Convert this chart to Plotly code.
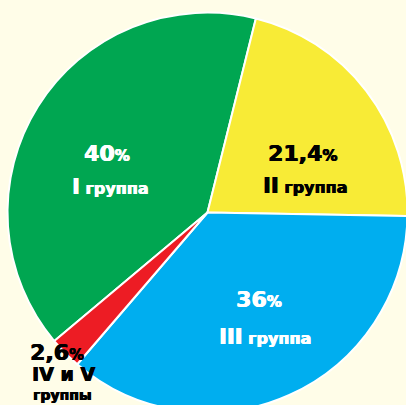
import plotly.graph_objects as go

# ---- data ----
groups = ["I", "II", "III", "IV и V"]
group_words = ["группа", "группа", "группа", "группы"]
shares = [40, 21.4, 36, 2.6]
colors = ["#00A651", "#F8EB36", "#00AEEF", "#ED1C24"]
text_colors = ["white", "black", "white", "black"]

# ---- layout constants (pixels) ----
W, H = 415, 425
CX, CY, R = 207.5, 212.5, 200
BG = "#FFFDE8"
FONT = "DejaVu Sans"


def fmt(v):
    return ("%g" % v).replace(".", ",")


def px(x):
    return x / W


def py(y):
    return 1 - y / H


def heavy(color):
    # thicken glyphs slightly to mimic the heavy display face
    return f"0.6px 0 0 {color}, -0.3px 0 0 {color}"


fig = go.Figure(
    go.Pie(
        values=shares,
        labels=groups,
        sort=False,
        direction="clockwise",
        rotation=-130,
        marker=dict(colors=colors, line=dict(color="white", width=2)),
        textinfo="none",
        hoverinfo="skip",
        showlegend=False,
        domain=dict(x=[(CX - R) / W, (CX + R) / W], y=[0, 1]),
    )
)

# label placements (pixel centres of each text line)
value_pos = [(107, 153), (302, 153), (259, 299), (57, 352)]
name_pos = [(110, 187), (305, 186), (265, 337), (63, 374)]

ann = []
for i in range(len(shares)):
    c = text_colors[i]
    vx, vy = value_pos[i]
    ann.append(dict(
        x=px(vx), y=py(vy), xref="paper", yref="paper",
        xanchor="center", yanchor="middle", showarrow=False, borderpad=0,
        text=f"{fmt(shares[i])}<span style='font-size:15px'>%</span>",
        font=dict(family=FONT, size=22, color=c, weight="bold", shadow=heavy(c)),
    ))
    nx, ny = name_pos[i]
    if i < 3:
        txt = f"<span style='font-size:21px'>{groups[i]}</span> {group_words[i]}"
        ann.append(dict(
            x=px(nx), y=py(ny), xref="paper", yref="paper",
            xanchor="center", yanchor="middle", showarrow=False, borderpad=0,
            text=txt,
            font=dict(family=FONT, size=16, color=c, weight="bold", shadow=heavy(c)),
        ))
    else:
        ann.append(dict(
            x=px(nx), y=py(ny), xref="paper", yref="paper",
            xanchor="center", yanchor="middle", showarrow=False, borderpad=0,
            text=groups[i],
            font=dict(family=FONT, size=19, color=c, weight="bold", shadow=heavy(c)),
        ))
        ann.append(dict(
            x=px(62), y=py(395), xref="paper", yref="paper",
            xanchor="center", yanchor="middle", showarrow=False, borderpad=0,
            text=group_words[i],
            font=dict(family=FONT, size=14, color=c, weight="bold", shadow=heavy(c)),
        ))

fig.update_layout(
    width=W, height=H,
    margin=dict(l=0, r=0, t=0, b=0),
    paper_bgcolor=BG, plot_bgcolor=BG,
    annotations=ann,
)

fig.write_html(
    "out.html",
    config={"displayModeBar": False},
    post_script="document.body.style.overflow='hidden';document.documentElement.style.overflow='hidden';",
)
